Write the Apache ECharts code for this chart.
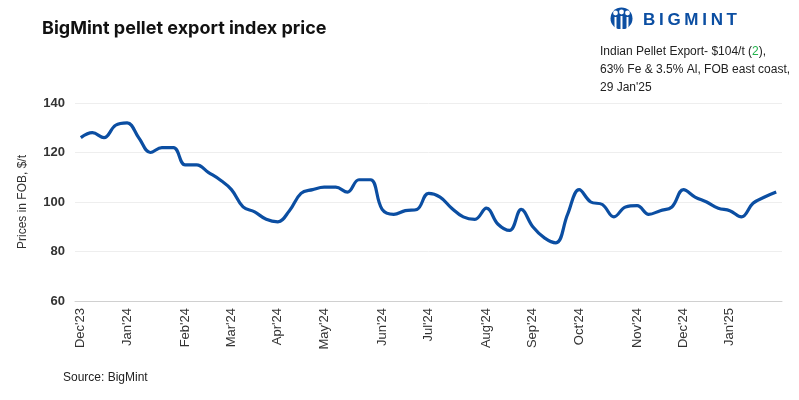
<!DOCTYPE html>
<html>
<head>
<meta charset="utf-8">
<script src="https://cdn.jsdelivr.net/npm/echarts@6/dist/echarts.min.js"></script>
<style>
  html, body { margin: 0; padding: 0; background: #fff; }
  #main { width: 799px; height: 400px; }
</style>
</head>
<body>
<div id="main"></div>
<script>
// weekly assessment dates (Wednesdays)
var weeks = [
    '2023-12-06','2023-12-13','2023-12-20','2023-12-27',
    '2024-01-03','2024-01-10','2024-01-17','2024-01-24','2024-01-31',
    '2024-02-07','2024-02-14','2024-02-21','2024-02-28',
    '2024-03-06','2024-03-13','2024-03-20','2024-03-27',
    '2024-04-03','2024-04-10','2024-04-17','2024-04-24',
    '2024-05-01','2024-05-08','2024-05-15','2024-05-22','2024-05-29',
    '2024-06-05','2024-06-12','2024-06-19','2024-06-26',
    '2024-07-03','2024-07-10','2024-07-17','2024-07-24','2024-07-31',
    '2024-08-07','2024-08-14','2024-08-21','2024-08-28',
    '2024-09-04','2024-09-11','2024-09-18','2024-09-25',
    '2024-10-02','2024-10-09','2024-10-16','2024-10-23','2024-10-30',
    '2024-11-06','2024-11-13','2024-11-20','2024-11-27',
    '2024-12-04','2024-12-11','2024-12-18','2024-12-25',
    '2025-01-01','2025-01-08','2025-01-15','2025-01-22','2025-01-29'
];

// pellet export price, $/t FOB
var prices = [
    126, 128, 126, 131,
    132, 126, 120, 122, 122,
    115, 115, 112, 109,
    105, 98, 96, 93,
    92, 96.5, 103.5, 105,
    106, 106, 104, 109, 109,
    97, 95, 96.5, 97,
    103.5, 102, 97.5, 94, 93,
    97.5, 91, 88.5, 97,
    90, 85.5, 83.5, 95,
    105, 100, 99, 94, 98,
    98.5, 95, 96.5, 98,
    105, 102, 100, 97.5,
    96.5, 94, 99.5, 102, 104
];

// month label shown on the first week of each month
var monthIdx = [0, 4, 9, 13, 17, 21, 26, 30, 35, 39, 43, 48, 52, 56];
var monthNames = ['Jan','Feb','Mar','Apr','May','Jun','Jul','Aug','Sep','Oct','Nov','Dec'];

var yTicks = { min: 60, max: 140, interval: 20 };

var blue = '#0b4ea2';

// logo wordmark, spaced letters
var logoLetters = ['B', 'I', 'G', 'M', 'I', 'N', 'T'];
var logoCenters = [649.1, 661.4, 674, 691.4, 704.6, 716.8, 731.8];

var logoText = logoLetters.map(function (ch, i) {
    return {
        type: 'text',
        x: logoCenters[i],
        y: 12,
        style: {
            text: ch,
            align: 'center',
            fontFamily: 'Liberation Sans, Arial, sans-serif',
            fontWeight: 'bold',
            fontSize: 17,
            fill: blue
        }
    };
});

var chart = echarts.init(document.getElementById('main'));

chart.setOption({
    animation: false,
    backgroundColor: '#fff',
    textStyle: { fontFamily: 'Liberation Sans, Arial, sans-serif' },
    title: {
        text: 'BigMint pellet export index price',
        left: 37,
        top: 15,
        textStyle: {
            fontFamily: 'Inter, Liberation Sans, sans-serif',
            fontWeight: 'bold',
            fontSize: 18,
            color: '#111'
        }
    },
    grid: {
        left: 75,
        right: 17,
        top: 103,
        bottom: 99,
        containLabel: false
    },
    xAxis: {
        type: 'category',
        data: weeks,
        boundaryGap: true,
        axisLine: { show: true, lineStyle: { color: '#d0d0d0', width: 1 } },
        axisTick: { show: false },
        axisLabel: {
            rotate: 90,
            margin: 7,
            fontSize: 13,
            color: '#333',
            interval: function (index) {
                return monthIdx.indexOf(index) >= 0;
            },
            formatter: function (value) {
                var p = value.split('-');
                return monthNames[parseInt(p[1], 10) - 1] + "'" + p[0].slice(2);
            }
        },
        splitLine: { show: false }
    },
    yAxis: {
        type: 'value',
        min: yTicks.min,
        max: yTicks.max,
        interval: yTicks.interval,
        name: 'Prices in FOB, $/t',
        nameLocation: 'middle',
        nameGap: 46,
        nameTextStyle: { fontSize: 12, color: '#333' },
        axisLine: { show: false },
        axisTick: { show: false },
        axisLabel: {
            margin: 10,
            fontSize: 13,
            fontWeight: 'bold',
            color: '#333'
        },
        splitLine: { lineStyle: { color: '#eeeeee', width: 1 } }
    },
    series: [{
        name: 'Pellet export',
        type: 'line',
        data: prices,
        smooth: 0.4,
        symbol: 'none',
        lineStyle: { color: blue, width: 3.2 },
        itemStyle: { color: blue }
    }],
    graphic: [
        // logo mark
        {
            type: 'group',
            x: 610,
            y: 8,
            children: [
                { type: 'circle', shape: { cx: 11.5, cy: 10.5, r: 11 }, style: { fill: blue } },
                { type: 'circle', shape: { cx: 5.5, cy: 5, r: 2.4 }, style: { fill: '#fff' } },
                { type: 'circle', shape: { cx: 11.5, cy: 4, r: 2.4 }, style: { fill: '#fff' } },
                { type: 'circle', shape: { cx: 17.5, cy: 5, r: 2.4 }, style: { fill: '#fff' } },
                { type: 'rect', shape: { x: 4.5, y: 9, width: 2, height: 12 }, style: { fill: '#fff' } },
                { type: 'rect', shape: { x: 10.5, y: 8, width: 2, height: 14 }, style: { fill: '#fff' } },
                { type: 'rect', shape: { x: 16.5, y: 9, width: 2, height: 12 }, style: { fill: '#fff' } },
                { type: 'rect', shape: { x: 0, y: 21, width: 23, height: 3 }, style: { fill: '#fff' } }
            ]
        }
    ].concat(logoText, [
        {
            type: 'text',
            left: 600,
            top: 43,
            style: {
                text: 'Indian Pellet Export- $104/t ({g|2}),\n63% Fe & 3.5% Al, FOB east coast,\n29 Jan\'25',
                fontFamily: 'Liberation Sans, Arial, sans-serif',
                fontSize: 12,
                lineHeight: 18,
                fill: '#222',
                rich: {
                    g: { fill: '#22b24c', fontSize: 12, lineHeight: 18 }
                }
            }
        },
        {
            type: 'text',
            left: 63,
            top: 372,
            style: {
                text: 'Source: BigMint',
                fontFamily: 'Liberation Sans, Arial, sans-serif',
                fontSize: 12,
                fill: '#222'
            }
        }
    ])
});
</script>
</body>
</html>
